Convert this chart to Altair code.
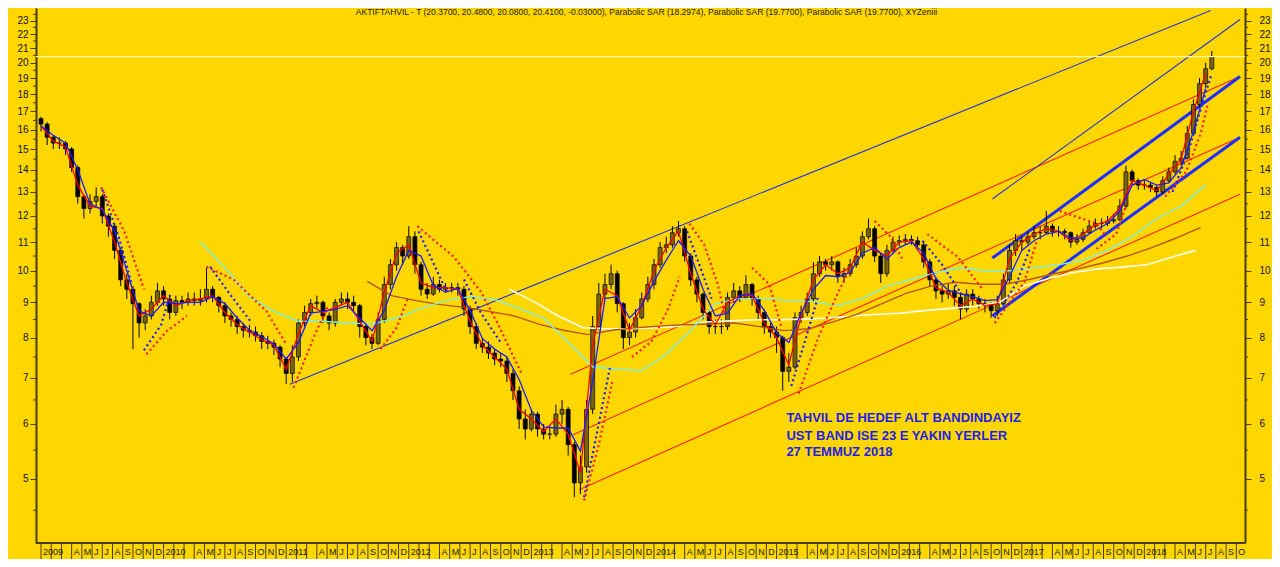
import altair as alt
import pandas as pd

# ---------------- values ----------------
# price candles, one every 0.05 year starting at 2009.0
price_start = 2009.0
price_step = 0.05
first_open = 16.6
close = [16.3, 15.6, 15.3, 15.3, 15.0, 14.1, 12.8, 12.3, 12.6, 12.8,
         12.0, 11.6, 10.7, 9.7, 9.4, 8.96, 8.4, 8.6, 9.0, 9.35,
         9.1, 8.7, 9.05, 9.0, 9.1, 9.05, 9.1, 9.4, 9.15, 8.9,
         8.6, 8.5, 8.3, 8.2, 8.15, 8.05, 7.9, 7.85, 7.75, 7.45,
         7.1, 7.5, 8.4, 8.7, 8.96, 9.0, 8.6, 8.4, 9.0, 9.1,
         9.0, 8.9, 8.3, 8.0, 7.85, 8.5, 9.55, 10.2, 10.8, 10.5,
         11.2, 10.2, 9.4, 9.25, 9.55, 9.4, 9.45, 9.45, 9.4, 8.8,
         8.3, 7.85, 7.75, 7.6, 7.45, 7.4, 7.1, 6.7, 6.1, 5.9,
         6.2, 5.9, 5.8, 5.8, 6.2, 6.3, 5.6, 4.93, 5.2, 6.3,
         8.3, 9.25, 9.55, 9.9, 8.96, 8.0, 8.15, 8.55, 9.1, 9.55,
         10.2, 10.8, 10.9, 11.35, 11.5, 10.5, 9.7, 9.25, 8.7, 8.3,
         8.3, 8.3, 9.15, 9.35, 9.15, 9.55, 9.1, 8.7, 8.3, 8.15,
         8.0, 7.15, 7.25, 8.55, 8.7, 9.1, 9.9, 10.3, 10.2, 10.3,
         9.8, 9.9, 10.2, 10.5, 11.2, 11.5, 10.5, 9.9, 10.7, 11.0,
         11.05, 11.1, 11.05, 10.9, 10.3, 9.7, 9.35, 9.25, 9.35, 9.15,
         8.8, 9.25, 9.1, 8.96, 8.9, 8.75, 8.96, 9.7, 10.7, 11.05,
         11.0, 11.2, 11.35, 11.35, 11.6, 11.4, 11.4, 11.35, 11.0, 11.1,
         11.35, 11.6, 11.7, 11.7, 11.8, 11.85, 12.4, 13.9, 13.5, 13.3,
         13.3, 13.2, 13.0, 13.5, 13.9, 14.4, 14.55, 15.8, 17.4, 18.65,
         19.6, 20.4]
high = [16.7, 16.4, 15.7, 15.6, 15.4, 15.1, 14.2, 12.9, 12.9, 13.2,
        12.9, 12.1, 11.7, 10.8, 9.9, 9.5, 9.0, 8.8, 9.2, 9.6,
        9.5, 9.2, 9.2, 9.2, 9.3, 9.3, 9.4, 10.1, 9.5, 9.2,
        9.0, 8.7, 8.6, 8.4, 8.35, 8.3, 8.15, 8.05, 7.95, 7.8,
        7.5, 7.8, 8.5, 8.9, 9.1, 9.2, 9.05, 8.7, 9.1, 9.3,
        9.3, 9.2, 8.95, 8.4, 8.1, 8.7, 9.8, 10.4, 11.0, 10.9,
        11.6, 11.4, 10.3, 9.6, 9.8, 9.7, 9.6, 9.6, 9.6, 9.5,
        8.9, 8.4, 8.0, 7.9, 7.7, 7.6, 7.5, 7.2, 6.8, 6.3,
        6.3, 6.25, 6.0, 5.95, 6.4, 6.5, 6.35, 5.65, 5.4, 6.5,
        8.6, 9.6, 9.9, 10.2, 10.0, 9.0, 8.4, 8.8, 9.3, 9.8,
        10.4, 11.0, 11.2, 11.6, 11.8, 11.6, 10.6, 9.8, 9.3, 8.8,
        8.5, 8.5, 9.3, 9.6, 9.5, 9.85, 9.6, 9.2, 8.8, 8.4,
        8.3, 8.05, 7.6, 8.7, 8.9, 9.3, 10.3, 10.5, 10.4, 10.5,
        10.35, 10.1, 10.4, 10.8, 11.4, 11.9, 11.6, 10.6, 10.9, 11.2,
        11.25, 11.3, 11.25, 11.2, 11.0, 10.4, 9.8, 9.5, 9.6, 9.5,
        9.3, 9.4, 9.4, 9.2, 9.1, 9.0, 9.2, 9.9, 10.9, 11.3,
        11.2, 11.4, 11.6, 11.6, 12.2, 11.7, 11.6, 11.5, 11.4, 11.3,
        11.5, 11.8, 11.9, 11.9, 12.0, 12.1, 12.7, 14.2, 14.0, 13.6,
        13.5, 13.4, 13.3, 13.7, 14.1, 14.7, 14.9, 16.2, 17.7, 19.0,
        20.0, 20.8]
low = [15.9, 15.2, 15.0, 15.0, 14.7, 13.9, 12.5, 11.9, 12.1, 12.4,
       11.7, 11.2, 10.4, 9.5, 9.1, 7.7, 8.0, 8.2, 8.5, 8.9,
       8.9, 8.5, 8.6, 8.8, 8.9, 8.9, 8.9, 9.0, 9.0, 8.7,
       8.4, 8.3, 8.1, 8.0, 8.0, 7.9, 7.7, 7.7, 7.55, 7.25,
       6.85, 6.9, 7.4, 8.3, 8.6, 8.8, 8.4, 8.2, 8.3, 8.9,
       8.8, 8.7, 8.0, 7.8, 7.7, 7.8, 8.4, 9.4, 10.0, 10.2,
       10.4, 9.9, 9.2, 9.1, 9.2, 9.3, 9.3, 9.3, 9.2, 8.6,
       8.1, 7.7, 7.6, 7.45, 7.3, 7.25, 6.9, 6.5, 5.9, 5.7,
       5.85, 5.75, 5.7, 5.7, 5.75, 6.0, 5.4, 4.7, 4.75, 5.1,
       6.2, 8.2, 9.1, 9.4, 8.7, 7.7, 7.8, 8.0, 8.5, 9.0,
       9.4, 10.1, 10.6, 10.8, 11.2, 10.3, 9.5, 9.0, 8.5, 8.1,
       8.1, 8.1, 8.2, 9.0, 9.0, 9.1, 8.9, 8.5, 8.1, 8.0,
       7.6, 6.7, 6.9, 7.2, 8.4, 8.6, 9.0, 9.8, 10.0, 10.0,
       9.6, 9.6, 9.8, 10.1, 10.4, 11.1, 10.3, 9.6, 9.8, 10.6,
       10.85, 10.9, 10.9, 10.7, 10.1, 9.5, 9.1, 9.0, 9.1, 8.9,
       8.5, 8.7, 8.9, 8.8, 8.7, 8.55, 8.6, 8.9, 9.6, 10.5,
       10.7, 10.9, 11.1, 11.1, 11.3, 11.2, 11.2, 11.1, 10.8, 10.9,
       11.0, 11.3, 11.5, 11.5, 11.6, 11.7, 11.8, 12.3, 13.3, 13.1,
       13.1, 13.0, 12.8, 12.9, 13.4, 13.8, 14.2, 14.5, 15.7, 17.2,
       18.4, 19.5]

# moving averages (red fast, blue medium) every 0.1 year from 2009.0
ma_step = 0.1
ma_red = [16.2, 15.4, 15.1, 13.3, 12.4, 12.3, 11.0, 9.6, 8.6, 8.8,
          9.2, 8.9, 9.05, 9.1, 9.2, 8.7, 8.35, 8.15, 7.95, 7.8,
          7.2, 8.1, 8.9, 8.7, 8.85, 9.0, 8.45, 7.9, 9.3, 10.6,
          10.9, 9.6, 9.45, 9.45, 9.4, 8.45, 7.8, 7.5, 7.2, 6.3,
          6.1, 5.85, 6.1, 5.8, 5.1, 7.8, 9.4, 9.2, 8.2, 8.9,
          10.0, 10.8, 11.4, 9.9, 8.8, 8.35, 9.0, 9.2, 9.2, 8.4,
          8.0, 7.3, 8.6, 9.7, 10.2, 9.9, 10.1, 11.0, 10.7, 10.5,
          11.0, 11.05, 10.4, 9.45, 9.3, 8.9, 9.1, 8.9, 8.95, 10.4,
          11.0, 11.3, 11.5, 11.4, 11.05, 11.3, 11.65, 11.8, 12.3, 13.5,
          13.3, 13.05, 13.8, 14.5, 17.0, 19.3]
ma_blue = [16.2, 15.7, 15.3, 14.0, 12.5, 12.25, 11.4, 10.0, 8.75, 8.6,
           9.0, 8.96, 9.0, 9.0, 9.17, 8.96, 8.54, 8.2, 8.03, 7.83,
           7.45, 7.87, 8.68, 8.73, 8.79, 8.9, 8.54, 8.19, 8.76, 9.8,
           10.7, 10.5, 9.52, 9.31, 9.43, 8.76, 7.98, 7.7, 7.5, 6.96,
           6.28, 5.94, 5.92, 5.92, 5.48, 6.92, 9.11, 9.17, 8.54, 8.9,
           9.65, 10.36, 11.05, 10.5, 9.4, 8.6, 8.68, 9.2, 9.26, 8.76,
           8.13, 7.87, 8.68, 9.4, 9.84, 9.8, 9.94, 10.6, 10.8, 10.4,
           10.8, 11.0, 10.6, 9.74, 9.37, 9.26, 9.17, 9.05, 9.08, 9.8,
           10.7, 11.05, 11.3, 11.4, 11.15, 11.15, 11.45, 11.7, 12.2, 13.3,
           13.55, 13.3, 13.4, 14.1, 15.9, 18.35]

# slow averages, every 0.2 year from their own start
slow_step = 0.2
ma_cyan_start = 2010.30
ma_cyan = [11.0, 10.1, 9.17, 8.73, 8.45, 8.45, 8.4, 8.37, 8.54, 8.82,
           9.05, 9.17, 9.08, 8.82, 8.54, 7.87, 7.26, 7.2, 7.17, 7.57,
           8.2, 8.96, 9.11, 9.11, 9.05, 9.02, 8.9, 9.11, 9.5, 9.71,
           9.94, 10.1, 10.0, 10.0, 10.1, 10.2, 10.36, 10.7, 11.2, 11.9,
           12.4, 13.3]
ma_brown_start = 2011.66
ma_brown = [9.65, 9.2, 9.05, 8.93, 8.85, 8.73, 8.6, 8.37, 8.2, 8.08,
            8.2, 8.27, 8.32, 8.35, 8.37, 8.4, 8.3, 8.19, 8.24, 8.43,
            8.65, 8.96, 9.28, 9.5, 9.62, 9.56, 9.56, 9.71, 9.9, 10.06,
            10.26, 10.5, 10.8, 11.15, 11.55]
ma_white_start = 2012.82
ma_white = [9.4, 9.02, 8.6, 8.27, 8.24, 8.24, 8.27, 8.32, 8.43, 8.46,
            8.49, 8.49, 8.51, 8.54, 8.6, 8.65, 8.68, 8.76, 8.82, 8.88,
            9.0, 9.5, 9.74, 9.94, 10.06, 10.12, 10.2, 10.46, 10.7]

# hand drawn trend lines
trend_kind = ["thin", "thin", "red", "red", "red", "thick", "thick"]
trend_t1 = [2011.03, 2016.76, 2013.32, 2013.34, 2013.39, 2016.76, 2016.76]
trend_v1 = [6.85, 12.7, 7.08, 5.79, 4.82, 10.43, 8.6]
trend_t2 = [2018.54, 2018.78, 2018.78, 2018.78, 2018.78, 2018.78, 2018.78]
trend_v2 = [23.8, 23.1, 19.1, 15.6, 12.9, 19.1, 15.6]

# parabolic SAR dotted arcs (time, value)
sar_red = [
    [(2009.49, 13.2), (2009.68, 11.4), (2009.84, 9.4)],
    [(2010.35, 10.13), (2010.57, 9.71), (2010.84, 8.73), (2011.00, 7.83)],
    [(2012.07, 11.6), (2012.37, 10.46), (2012.59, 9.31), (2012.73, 8.35), (2012.92, 7.1)],
    [(2014.29, 11.7), (2014.41, 10.9), (2014.52, 9.56), (2014.58, 8.6)],
    [(2014.80, 10.1), (2014.94, 9.56), (2015.04, 8.27)],
    [(2015.80, 11.8), (2015.93, 11.2), (2016.03, 10.36)],
    [(2016.23, 11.3), (2016.48, 10.46), (2016.68, 9.4)],
    [(2017.31, 12.2), (2017.61, 11.7), (2017.69, 11.2)],
    [(2009.86, 7.57), (2010.03, 8.19), (2010.19, 8.6)],
    [(2011.06, 6.77), (2011.24, 8.13), (2011.34, 8.88)],
    [(2011.77, 7.7), (2011.90, 8.27), (2011.99, 9.11)],
    [(2013.43, 4.65), (2013.55, 5.6), (2013.66, 6.9)],
    [(2013.82, 7.5), (2013.98, 7.9), (2014.11, 8.76), (2014.21, 9.8)],
    [(2015.18, 6.64), (2015.34, 8.0), (2015.49, 9.2), (2015.60, 10.1)],
    [(2016.78, 8.4), (2017.02, 9.62), (2017.12, 11.0)],
    [(2017.61, 10.75), (2017.77, 11.3), (2017.85, 12.4)],
    [(2018.17, 12.8), (2018.34, 13.9), (2018.46, 15.8), (2018.52, 17.5)],
]
sar_blue = [
    [(2009.50, 13.1), (2009.64, 11.1), (2009.74, 9.56)],
    [(2009.84, 7.67), (2009.98, 8.35), (2010.06, 9.31)],
    [(2010.38, 10.13), (2010.55, 9.2), (2010.72, 8.4)],
    [(2012.08, 11.4), (2012.20, 10.26), (2012.31, 9.31)],
    [(2012.45, 9.71), (2012.59, 8.68), (2012.75, 7.87)],
    [(2013.43, 4.7), (2013.54, 5.89), (2013.64, 7.23)],
    [(2014.27, 11.4), (2014.37, 10.2), (2014.47, 9.11)],
    [(2015.12, 6.81), (2015.24, 8.0), (2015.34, 9.19)],
    [(2016.19, 11.05), (2016.35, 10.2), (2016.52, 9.19)],
    [(2016.78, 8.54), (2016.96, 9.62), (2017.07, 10.8)],
    [(2018.23, 13.0), (2018.36, 14.9), (2018.47, 17.4), (2018.55, 19.3)],
]

last_close = 20.41
title_text = ("AKTIFTAHVIL - T (20.3700, 20.4800, 20.0800, 20.4100, -0.03000), "
              "Parabolic SAR (18.2974), Parabolic SAR (19.7700), "
              "Parabolic SAR (19.7700), XYZeniii")
note_lines = ["TAHVIL DE HEDEF ALT BANDINDAYIZ",
              "UST BAND ISE 23 E YAKIN YERLER",
              "27 TEMMUZ 2018"]
note_t = 2015.08
note_v = [6.12, 5.77, 5.47]

y_major = [5, 6, 7, 8, 9, 10, 11, 12, 13, 14, 15, 16, 17, 18, 19, 20, 21, 22, 23]
y_minor = [4.5, 5.5, 6.5, 7.5, 8.5, 9.5, 10.5, 11.5, 12.5, 13.5, 14.5, 15.5,
           16.5, 17.5, 18.5, 19.5, 20.5, 21.5, 22.5, 23.5]
years = [2009, 2010, 2011, 2012, 2013, 2014, 2015, 2016, 2017, 2018]
month_initials = ["", "", "", "A", "M", "J", "J", "A", "S", "O", "N", "D"]

# ---------------- build tables ----------------
W, H = 1209, 535
BG = "#FFD700"
DARK = "#4a3d00"

opens = [first_open] + close[:-1]
cdf = pd.DataFrame({
    "t": [price_start + price_step * i for i in range(len(close))],
    "o": opens, "c": close, "high": high, "low": low,
})
cdf["lo"] = cdf[["o", "c"]].min(axis=1)
cdf["hi"] = cdf[["o", "c"]].max(axis=1)


def series_df(start, step, vals):
    return pd.DataFrame({"t": [start + step * k for k in range(len(vals))], "v": vals})


red_df = series_df(price_start, ma_step, ma_red)
blue_df = series_df(price_start, ma_step, ma_blue)
cyan_df = series_df(ma_cyan_start, slow_step, ma_cyan)
brown_df = series_df(ma_brown_start, slow_step, ma_brown)
white_df = series_df(ma_white_start, slow_step, ma_white)

rows = []
for k, kind in enumerate(trend_kind):
    rows.append({"seg": k, "kind": kind, "t": trend_t1[k], "v": trend_v1[k]})
    rows.append({"seg": k, "kind": kind, "t": trend_t2[k], "v": trend_v2[k]})
trend_df = pd.DataFrame(rows)


def sar_df(segs):
    r = []
    for k, seg in enumerate(segs):
        for (t, v) in seg:
            r.append({"seg": k, "t": t, "v": v})
    return pd.DataFrame(r)


sar_red_df = sar_df(sar_red)
sar_blue_df = sar_df(sar_blue)

months = []
for yr in years:
    for m in range(12):
        t = yr + m / 12.0
        if t > 2018.78:
            break
        months.append({"t": t, "lab": str(yr) if m == 0 else month_initials[m]})
month_df = pd.DataFrame(months)

note_df = pd.DataFrame({"t": [note_t] * 3, "v": note_v, "txt": note_lines})
minor_df = pd.DataFrame({"v": y_minor})

# ---------------- scales ----------------
xs = alt.Scale(domain=[2009.0, 2018.78], nice=False, zero=False)
ys = alt.Scale(type="log", domain=[4.035, 24.0], nice=False, zero=False)
X = alt.X("t:Q", scale=xs, axis=None)
Y = alt.Y("v:Q", scale=ys, axis=None)

wicks = alt.Chart(cdf).mark_rule(color="#000000", strokeWidth=1).encode(
    x=X, y=alt.Y("low:Q", scale=ys, axis=None), y2="high:Q")
candles = alt.Chart(cdf).mark_bar(size=4, stroke="#000000", strokeWidth=0.7).encode(
    x=X,
    y=alt.Y("lo:Q", scale=ys, axis=None),
    y2="hi:Q",
    fill=alt.condition("datum.c >= datum.o", alt.value("#7a6600"), alt.value("#000000")),
)


def line(df, color, width, dash=None):
    kw = dict(color=color, strokeWidth=width, clip=True)
    if dash is not None:
        kw["strokeDash"] = dash
    return alt.Chart(df).mark_line(**kw).encode(x=X, y=Y)


white_l = line(white_df, "#FFFFF0", 1.6)
brown_l = line(brown_df, "#B5560A", 1.4)
cyan_l = line(cyan_df, "#7FEFE0", 1.4)
red_l = line(red_df, "#FF0000", 1.3)
blue_l = line(blue_df, "#1C1CFF", 1.3)

sar_r = alt.Chart(sar_red_df).mark_line(color="#FF1A1A", strokeWidth=2.2, strokeDash=[2, 3], clip=True).encode(
    x=X, y=Y, detail="seg:N")
sar_b = alt.Chart(sar_blue_df).mark_line(color="#1C1CFF", strokeWidth=2.2, strokeDash=[2, 3], clip=True).encode(
    x=X, y=Y, detail="seg:N")

trend_thin = alt.Chart(trend_df).transform_filter("datum.kind == 'thin'").mark_line(
    color="#2233DD", strokeWidth=1.1, clip=True).encode(x=X, y=Y, detail="seg:N")
trend_red = alt.Chart(trend_df).transform_filter("datum.kind == 'red'").mark_line(
    color="#FF2200", strokeWidth=1.1, clip=True).encode(x=X, y=Y, detail="seg:N")
trend_thick = alt.Chart(trend_df).transform_filter("datum.kind == 'thick'").mark_line(
    color="#1E2EFF", strokeWidth=3, clip=True).encode(x=X, y=Y, detail="seg:N")

last_line = alt.Chart(pd.DataFrame({"v": [last_close]})).mark_rule(
    color="#FFF8A8", strokeWidth=1.2).encode(y=Y)

notes = alt.Chart(note_df).mark_text(
    align="left", baseline="middle", fontSize=13, fontWeight="bold",
    font="Liberation Sans", color="#1E1EE6").encode(x=X, y=Y, text="txt:N")

title = alt.Chart(pd.DataFrame({"txt": [title_text]})).mark_text(
    align="center", baseline="middle", fontSize=8.5, font="Liberation Sans",
    color="#1a1a00").encode(x=alt.value(W / 2 + 6), y=alt.value(4), text="txt:N")


def y_axis(orient, pad):
    return alt.Chart(pd.DataFrame({"v": [5.0, 23.0]})).mark_point(opacity=0).encode(
        y=alt.Y("v:Q", scale=ys, axis=alt.Axis(
            orient=orient, values=y_major, format="d",
            tickSize=6, tickColor=DARK, tickWidth=1,
            domainColor=DARK, domainWidth=2, labelColor="#111111",
            labelFont="Liberation Sans", labelFontSize=10, labelPadding=pad,
            labelOverlap=False, labelFlush=False, grid=False, title=None)))


left_axis = y_axis("left", 2)
right_axis = y_axis("right", 8)

minor_left = alt.Chart(minor_df).mark_rule(color=DARK, strokeWidth=1).encode(
    y=Y, x=alt.value(-3), x2=alt.value(0))
minor_right = alt.Chart(minor_df).mark_rule(color=DARK, strokeWidth=1).encode(
    y=Y, x=alt.value(W), x2=alt.value(W + 3))

month_rules = alt.Chart(month_df).mark_rule(color=DARK, strokeWidth=1).encode(
    x=X, y=alt.value(H), y2=alt.value(H + 16))
month_text = alt.Chart(month_df).mark_text(
    align="left", baseline="middle", dx=2, fontSize=9, font="Liberation Sans",
    color="#1a1a00").encode(x=X, y=alt.value(H + 9), text="lab:N")
bottom_line = alt.Chart(pd.DataFrame({"a": [0]})).mark_rule(color=DARK, strokeWidth=2).encode(
    x=alt.value(0), x2=alt.value(W), y=alt.value(H))

chart = alt.layer(
    trend_red, trend_thin, trend_thick,
    wicks, candles,
    white_l, brown_l, cyan_l, red_l, blue_l,
    sar_r, sar_b,
    last_line, notes, title,
    month_rules, month_text, bottom_line,
    minor_left, minor_right,
    left_axis, right_axis,
).resolve_scale(y="independent").properties(
    width=W, height=H,
    autosize=alt.AutoSizeParams(type="none"),
    padding={"left": 28, "right": 27, "top": 0, "bottom": 16},
).configure(background=BG).configure_view(stroke="transparent")

chart.save("out.html", embed_options={"renderer": "svg", "actions": False})
